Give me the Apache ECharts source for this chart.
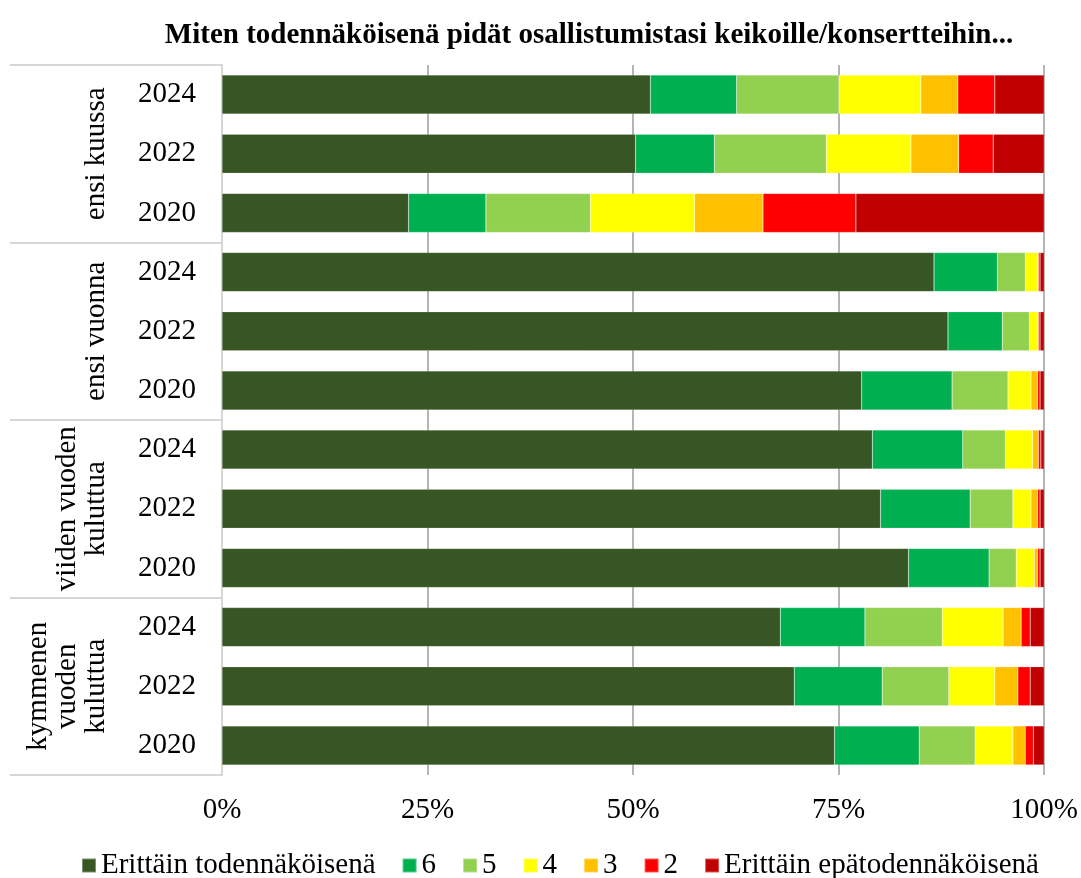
<!DOCTYPE html>
<html>
<head>
<meta charset="utf-8">
<script src="https://cdn.jsdelivr.net/npm/echarts@6/dist/echarts.min.js"></script>
<style>
  html, body { margin: 0; padding: 0; background: #fff; }
  #chart { width: 1081px; height: 878px; }
</style>
</head>
<body>
<div id="chart"></div>
<script>
const title = 'Miten todennäköisenä pidät osallistumistasi keikoille/konsertteihin...';
const groups = ['ensi kuussa', 'ensi vuonna', 'viiden vuoden\nkuluttua', 'kymmenen\nvuoden\nkuluttua'];
const years = ['2024', '2022', '2020', '2024', '2022', '2020', '2024', '2022', '2020', '2024', '2022', '2020'];
const tickLabels = ['0%', '25%', '50%', '75%', '100%'];

const names = ['Erittäin todennäköisenä', '6', '5', '4', '3', '2', 'Erittäin epätodennäköisenä'];
const colors = ['#375623', '#00b050', '#92d050', '#ffff00', '#ffc000', '#ff0000', '#c00000'];

// one value per row, top to bottom (%)
const s7 = [52.1, 50.3, 22.7, 86.6, 88.3, 77.8, 79.1, 80.1, 83.5, 67.9, 69.6, 74.5];
const s6 = [10.5, 9.6, 9.4, 7.7, 6.6, 11.0, 11.0, 10.9, 9.8, 10.3, 10.7, 10.3];
const s5 = [12.4, 13.6, 12.7, 3.4, 3.3, 6.8, 5.2, 5.2, 3.3, 9.4, 8.1, 6.8];
const s4 = [10.0, 10.3, 12.7, 1.5, 1.0, 2.8, 3.3, 2.2, 2.2, 7.4, 5.6, 4.6];
const s3 = [4.5, 5.8, 8.3, 0.1, 0.1, 0.8, 0.7, 0.8, 0.4, 2.2, 2.8, 1.5];
const s2 = [4.5, 4.2, 11.3, 0.2, 0.2, 0.3, 0.3, 0.3, 0.3, 1.1, 1.5, 1.0];
const s1 = [6.0, 6.2, 22.9, 0.5, 0.5, 0.5, 0.4, 0.5, 0.5, 1.7, 1.7, 1.3];
const values = [s7, s6, s5, s4, s3, s2, s1];

const font = '"Liberation Serif", "Times New Roman", serif';
const chart = echarts.init(document.getElementById('chart'));

chart.setOption({
  animation: false,
  textStyle: { fontFamily: font, color: '#000' },
  title: {
    text: title,
    left: 584,
    textAlign: 'center',
    top: 16,
    textStyle: { fontFamily: font, fontSize: 29, fontWeight: 'bold', color: '#000' }
  },
  grid: { left: 222, right: 36, top: 65, bottom: 103 },
  xAxis: {
    type: 'value',
    min: 0,
    max: 100,
    interval: 25,
    axisLine: { show: false },
    axisTick: { show: false },
    axisLabel: {
      fontSize: 29, color: '#000', margin: 21,
      formatter: v => tickLabels[v / 25]
    },
    splitLine: { showMinLine: false, lineStyle: { color: '#b5b5b5', width: 2 } }
  },
  yAxis: [
    {
      type: 'category',
      data: years,
      inverse: true,
      axisLine: { lineStyle: { color: '#d6d6d6', width: 2 } },
      axisTick: { show: false },
      axisLabel: { fontSize: 29, color: '#000', margin: 26, interval: 0 }
    },
    {
      type: 'category',
      data: groups,
      inverse: true,
      position: 'left',
      axisLine: { show: false },
      axisTick: { show: true, interval: 0, length: 212, lineStyle: { color: '#d6d6d6', width: 2 } },
      axisLabel: { fontSize: 29, color: '#000', margin: 111, rotate: 90, lineHeight: 29, interval: 0 }
    }
  ],
  legend: {
    top: 846,
    left: 76,
    itemWidth: 14,
    itemHeight: 14,
    itemGap: 26,
    icon: 'rect',
    textStyle: { fontFamily: font, fontSize: 29, color: '#000' },
    data: names
  },
  series: names.map((n, i) => ({
    name: n,
    type: 'bar',
    stack: 'total',
    barWidth: '66%',
    yAxisIndex: 0,
    itemStyle: { color: colors[i], borderColor: 'rgba(255,255,255,0.35)', borderWidth: 0.5 },
    data: values[i]
  }))
});
</script>
</body>
</html>
